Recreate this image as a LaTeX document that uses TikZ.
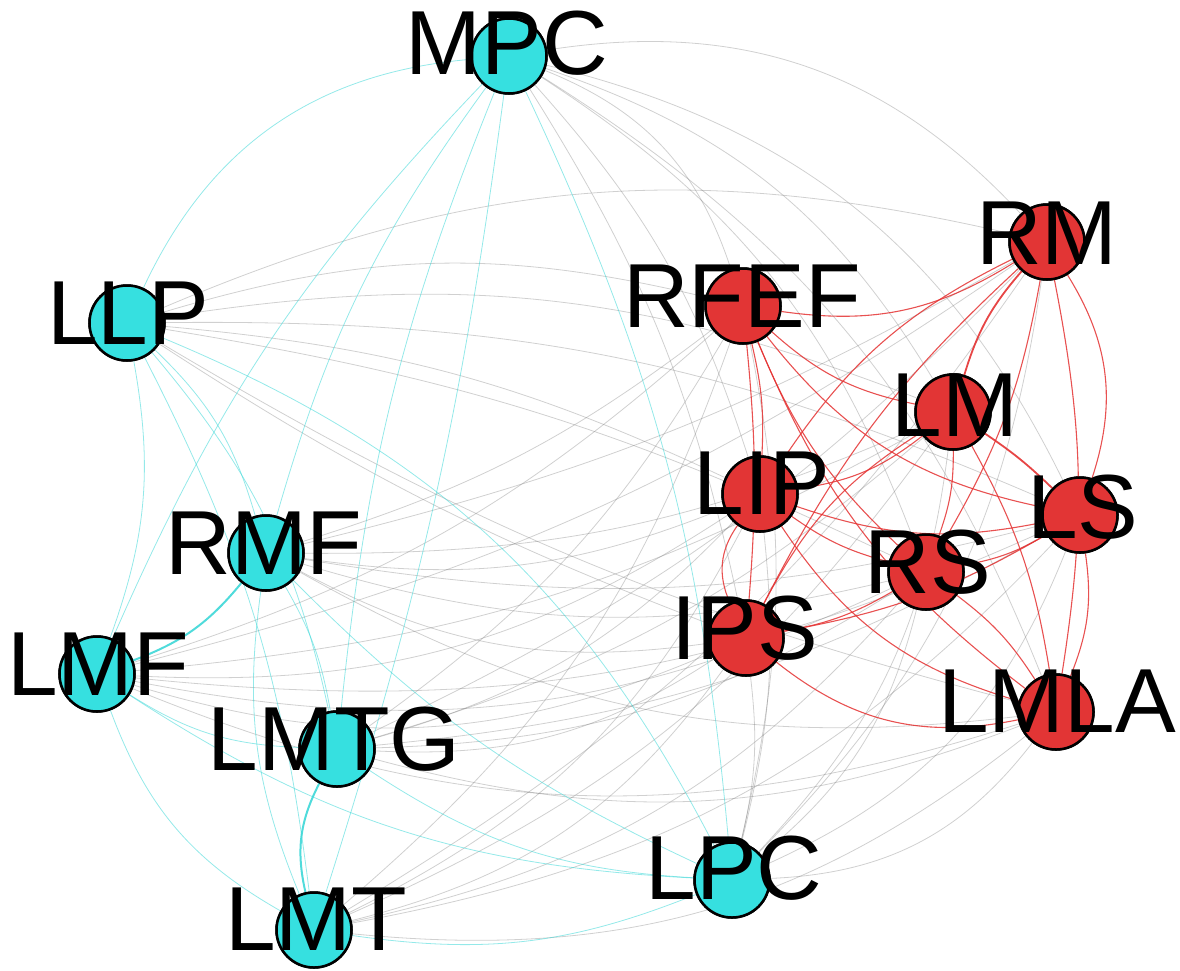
\documentclass[tikz,border=0pt]{standalone}
\usepackage{fontspec}
\setmainfont{Liberation Sans}
\definecolor{cyanfill}{RGB}{54,224,224}
\definecolor{redfill}{RGB}{226,53,53}
\definecolor{cyanedge}{RGB}{60,215,215}
\definecolor{rededge}{RGB}{228,50,50}
\definecolor{grayedge}{RGB}{120,120,120}
\begin{document}
\begin{tikzpicture}[x=1pt,y=1pt,
  vc/.style={circle, draw=black, line width=2.5pt, fill=cyanfill, minimum size=75pt, inner sep=0pt},
  vr/.style={circle, draw=black, line width=2.5pt, fill=redfill, minimum size=75pt, inner sep=0pt},
  lab/.style={inner sep=0pt, text=black, font=\fontsize{91}{91}\selectfont},
  ge/.style={draw=grayedge, line width=0.8pt, opacity=0.35},
  ce/.style={draw=cyanedge, line width=0.8pt, opacity=0.55},
  cethick/.style={draw=cyanedge, line width=2pt, opacity=0.9},
  re/.style={draw=rededge, line width=1.1pt, opacity=0.85},
  rethick/.style={draw=rededge, line width=1.8pt, opacity=0.9}]
\useasboundingbox (0,0) rectangle (1180,-970);

% ---------------- nodes (circles) ----------------
\node[vc] (MPC)  at (509,-56)  {};
\node[vc] (LLP)  at (127,-323) {};
\node[vc] (RMF)  at (266,-553) {};
\node[vc] (LMF)  at (97,-674)  {};
\node[vc] (LMTG) at (337,-749) {};
\node[vc] (LMT)  at (314,-930) {};
\node[vc] (LPC)  at (732,-880) {};
\node[vr] (RFEF) at (743,-306) {};
\node[vr] (RM)   at (1047,-242) {};
\node[vr] (LM)   at (953,-412) {};
\node[vr] (LIP)  at (760,-494) {};
\node[vr] (RS)   at (926,-572) {};
\node[vr] (LS)   at (1080,-515) {};
\node[vr] (IPS)  at (746,-638) {};
\node[vr] (LMLA) at (1056,-712) {};

% ---------------- gray edges (between groups) ----------------
\foreach \a/\b/\g in {
  MPC/RFEF/25, MPC/RM/28, MPC/LM/20, MPC/LIP/12, MPC/RS/18, MPC/LS/25, MPC/IPS/10, MPC/LMLA/18,
  LLP/RFEF/15, LLP/RM/18, LLP/LM/15, LLP/LIP/10, LLP/RS/8, LLP/LS/12, LLP/IPS/-6, LLP/LMLA/-8,
  RMF/RFEF/-10, RMF/RM/-8, RMF/LM/-12, RMF/LIP/-15, RMF/RS/-15, RMF/LS/-12, RMF/IPS/-18, RMF/LMLA/-18,
  LMF/RFEF/-12, LMF/RM/-10, LMF/LM/-12, LMF/LIP/-18, LMF/RS/-18, LMF/LS/-15, LMF/IPS/-20, LMF/LMLA/-20,
  LMTG/RFEF/-12, LMTG/RM/-10, LMTG/LM/-12, LMTG/LIP/-15, LMTG/RS/-15, LMTG/LS/-12, LMTG/IPS/-18, LMTG/LMLA/-18,
  LMT/RFEF/-15, LMT/RM/-12, LMT/LM/-15, LMT/LIP/-18, LMT/RS/-18, LMT/LS/-18, LMT/IPS/-20, LMT/LMLA/-22,
  LPC/RFEF/-12, LPC/RM/-18, LPC/LM/-18, LPC/LIP/-10, LPC/RS/-18, LPC/LS/-22, LPC/IPS/-10, LPC/LMLA/-25}
  \draw[ge] (\a) to[bend left=\g] (\b);

% ---------------- cyan edges ----------------
\foreach \a/\b/\g in {
  LLP/MPC/30, LLP/LMF/15, LLP/RMF/15, LLP/LMTG/14, LLP/LMT/10, LLP/LPC/20,
  MPC/RMF/-10, MPC/LMF/-10, MPC/LMTG/-8, MPC/LMT/5, MPC/LPC/10,
  RMF/LMTG/10, RMF/LMT/-15, RMF/LPC/-10,
  LMF/LMTG/-15, LMF/LMT/-20, LMF/LPC/-15,
  LMTG/LPC/-15, LMT/LPC/-15}
  \draw[ce] (\a) to[bend left=\g] (\b);
\draw[cethick] (RMF) to[bend left=15] (LMF);
\draw[cethick] (LMTG) to[bend right=20] (LMT);

% ---------------- red edges ----------------
\foreach \a/\b/\g in {
  RFEF/RM/-20, RFEF/LM/-15, RFEF/LIP/8, RFEF/LS/-20, RFEF/RS/-12, RFEF/IPS/5, RFEF/LMLA/-15,
  RM/LIP/-15, RM/RS/10, RM/LS/25, RM/IPS/-10, RM/LMLA/10,
  LIP/LM/-15, LM/RS/10, LM/IPS/-15, LM/LMLA/10,
  LIP/RS/-10, LIP/LS/-15, LIP/IPS/-30, LIP/LMLA/-20,
  RS/LS/-10, RS/IPS/10, RS/LMLA/10,
  IPS/LS/-10, LS/LMLA/15, IPS/LMLA/-25}
  \draw[re] (\a) to[bend left=\g] (\b);
\draw[rethick] (RM) to[bend right=12] (LM);
\draw[rethick] (LM) to[bend left=5] (LS);

% ---------------- circles redrawn on top of edges ----------------
\foreach \n in {MPC,LLP,RMF,LMF,LMTG,LMT,LPC}
  \node[vc] at (\n) {};
\foreach \n in {RFEF,RM,LM,LIP,RS,LS,IPS,LMLA}
  \node[vr] at (\n) {};

% ---------------- labels ----------------
\node[lab] (MPC-t)  at (507,-43)  {MPC};
\node[lab] (LLP-t)  at (128,-313) {LLP};
\node[lab] (RMF-t)  at (264,-543) {RMF};
\node[lab] (LMF-t)  at (98,-664)  {LMF};
\node[lab] (LMTG-t) at (334,-739) {LMTG};
\node[lab] (LMT-t)  at (316,-919) {LMT};
\node[lab] (LPC-t)  at (734,-868) {LPC};
\node[lab] (RFEF-t) at (742,-296) {RFEF};
\node[lab] (RM-t)   at (1047,-233) {RM};
\node[lab] (LM-t)   at (955,-405) {LM};
\node[lab] (LIP-t)  at (762,-483) {LIP};
\node[lab] (RS-t)   at (928,-562) {RS};
\node[lab] (LS-t)   at (1083,-507) {LS};
\node[lab] (IPS-t)  at (745,-628) {IPS};
\node[lab] (LMLA-t) at (1057,-701) {LMLA};
\end{tikzpicture}
\end{document}
